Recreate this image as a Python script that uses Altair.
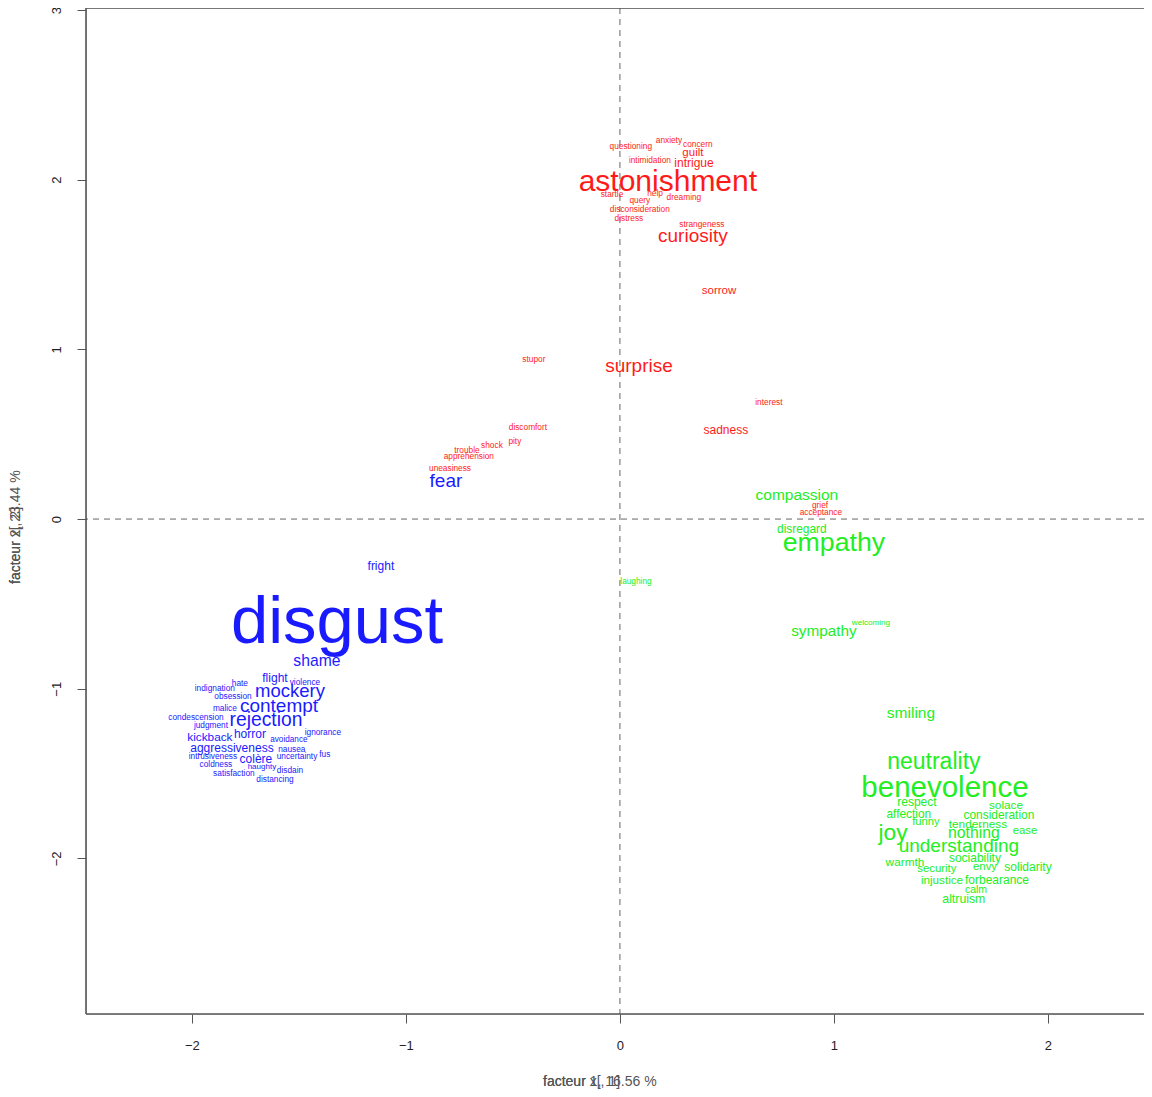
import altair as alt
import pandas as pd

# ---- data ----
red_words = ["astonishment", "curiosity", "surprise", "sorrow", "sadness", "interest",
             "stupor", "discomfort", "pity", "shock", "trouble", "apprehension", "uneasiness",
             "grief", "acceptance", "questioning", "anxiety", "concern", "guilt", "intimidation",
             "intrigue", "startle", "help", "query", "dreaming", "disconsideration", "distress",
             "strangeness"]
red_x = [0.224, 0.341, 0.089, 0.463, 0.495, 0.696, -0.402, -0.430, -0.491, -0.598, -0.715,
         -0.706, -0.794, 0.935, 0.939, 0.051, 0.229, 0.364, 0.341, 0.140, 0.346, -0.037,
         0.164, 0.093, 0.299, 0.093, 0.042, 0.383]
red_y = [1.986, 1.668, 0.902, 1.344, 0.524, 0.684, 0.937, 0.536, 0.454, 0.430, 0.401, 0.365,
         0.295, 0.077, 0.035, 2.192, 2.227, 2.204, 2.157, 2.110, 2.098, 1.909, 1.915, 1.874,
         1.892, 1.821, 1.768, 1.732]
red_size = [30, 19, 19, 11.5, 12, 8.3, 8.3, 8.3, 8.3, 8.3, 8.3, 8.3, 8.3, 8.3, 8.3, 8.3, 8.3,
            8.3, 11.5, 8.3, 12, 8.3, 8.3, 8.3, 8.3, 8.3, 8.3, 8.3]

blue_words = ["disgust", "fear", "fright", "shame", "flight", "violence", "hate", "indignation",
              "mockery", "obsession", "contempt", "malice", "condescension", "rejection",
              "judgment", "ignorance", "kickback", "horror", "avoidance", "aggressiveness",
              "nausea", "fus", "intrusiveness", "colère", "uncertainty", "coldness", "haughty",
              "disdain", "satisfaction", "distancing"]
blue_x = [-1.322, -0.813, -1.117, -1.416, -1.612, -1.472, -1.776, -1.893, -1.542, -1.808,
          -1.593, -1.846, -1.981, -1.654, -1.911, -1.388, -1.916, -1.729, -1.547, -1.813,
          -1.533, -1.379, -1.902, -1.701, -1.509, -1.888, -1.673, -1.542, -1.804, -1.612]
blue_y = [-0.613, 0.224, -0.277, -0.837, -0.937, -0.966, -0.972, -1.002, -1.014, -1.049,
          -1.102, -1.120, -1.173, -1.184, -1.220, -1.261, -1.285, -1.267, -1.302, -1.349,
          -1.361, -1.391, -1.402, -1.414, -1.402, -1.450, -1.461, -1.485, -1.503, -1.538]
blue_size = [67, 19, 12, 15.7, 12, 8.3, 8.3, 8.3, 18.5, 8.3, 19, 8.3, 8.3, 19.3, 8.3, 8.3,
             11.8, 12, 8.2, 12, 8.3, 8.3, 8.3, 12, 8.3, 8.3, 8, 8.3, 8.3, 8.3]

green_words = ["compassion", "disregard", "empathy", "laughing", "welcoming", "sympathy",
               "smiling", "neutrality", "benevolence", "respect", "solace", "affection",
               "consideration", "funny", "tenderness", "joy", "nothing", "ease",
               "understanding", "sociability", "warmth", "envy", "solidarity", "security",
               "injustice", "forbearance", "calm", "altruism"]
green_x = [0.827, 0.850, 1.000, 0.075, 1.173, 0.953, 1.360, 1.467, 1.519, 1.388, 1.804, 1.350,
           1.771, 1.430, 1.673, 1.276, 1.654, 1.893, 1.584, 1.659, 1.332, 1.706, 1.907, 1.481,
           1.505, 1.762, 1.664, 1.607]
green_y = [0.141, -0.059, -0.141, -0.371, -0.613, -0.660, -1.143, -1.432, -1.585, -1.668,
           -1.685, -1.738, -1.744, -1.786, -1.797, -1.850, -1.850, -1.838, -1.927, -1.998,
           -2.021, -2.051, -2.051, -2.062, -2.127, -2.127, -2.186, -2.239]
green_size = [15.5, 11.9, 26.7, 8.3, 8.1, 15.3, 15.5, 23, 29.5, 12, 11.8, 11.9, 11.9, 11.2,
              11.8, 22.8, 15.8, 11.4, 19, 12, 11.8, 11.4, 12, 11.4, 11.7, 12, 10.5, 12.3]

groups = ["red", "blue", "green"]
group_colors = ["#ff1a1a", "#1a1aff", "#22ee22"]

x_ticks = [-2, -1, 0, 1, 2]
y_ticks = [-2, -1, 0, 1, 2, 3]
x_domain = [-2.495, 2.449]
y_domain = [-2.917, 3.012]

x_title_a = "facteur x[, 1]"
x_title_b = "facteur 1, 16.56 %"
y_title_a = "facteur x[, 2]"
y_title_b = "facteur 2, 23.44 %"

# ---- build table ----
rows = []
for g, ws, xs, ys, ss in [("red", red_words, red_x, red_y, red_size),
                          ("blue", blue_words, blue_x, blue_y, blue_size),
                          ("green", green_words, green_x, green_y, green_size)]:
    for w, xx, yy, s in zip(ws, xs, ys, ss):
        rows.append({"word": w, "x": xx, "y": yy, "size": s, "group": g})
df = pd.DataFrame(rows)

W, H = 1058, 1006
FONT = "Liberation Sans"

xscale = alt.Scale(domain=x_domain, nice=False, zero=False)
yscale = alt.Scale(domain=y_domain, nice=False, zero=False)

base = alt.Chart(df)

words = base.mark_text(font=FONT, baseline="middle", align="center").encode(
    x=alt.X("x:Q", scale=xscale,
            axis=alt.Axis(values=x_ticks, title=None, grid=False, domain=False,
                          tickSize=9, tickColor="#555", labelFontSize=13, labelFont=FONT,
                          labelColor="#222", labelPadding=16, format="d")),
    y=alt.Y("y:Q", scale=yscale,
            axis=alt.Axis(values=y_ticks, title=None, grid=False, domain=False,
                          tickSize=9, tickColor="#555", labelFontSize=13, labelFont=FONT,
                          labelColor="#222", labelAngle=270, labelAlign="center",
                          labelBaseline="bottom", labelPadding=14, format="d")),
    text="word:N",
    size=alt.Size("size:Q", scale=None, legend=None),
    color=alt.Color("group:N", scale=alt.Scale(domain=groups, range=group_colors), legend=None),
)

one = pd.DataFrame({"a": [0]})

vline = alt.Chart(one).mark_rule(color="#666", strokeDash=[6, 5], strokeWidth=1).encode(
    x=alt.datum(0, scale=xscale))
hline = alt.Chart(one).mark_rule(color="#666", strokeDash=[6, 5], strokeWidth=1).encode(
    y=alt.datum(0, scale=yscale))

frame_left = alt.Chart(one).mark_rule(color="#555", strokeWidth=1.6).encode(
    x=alt.value(0), y=alt.value(0), y2=alt.value(H))
frame_top = alt.Chart(one).mark_rule(color="#555", strokeWidth=1.6).encode(
    x=alt.value(0), x2=alt.value(W + 5), y=alt.value(0))
frame_bottom = alt.Chart(one).mark_rule(color="#555", strokeWidth=1.6).encode(
    x=alt.value(0), x2=alt.value(W + 5), y=alt.value(H))

title_df = pd.DataFrame({"t": [x_title_a, x_title_b]})
xtitle = alt.Chart(title_df).mark_text(font=FONT, fontSize=14, color="#555", align="left",
                                       baseline="middle").encode(
    text="t:N", x=alt.value(457), y=alt.value(1074))
ytitle_df = pd.DataFrame({"t": [y_title_a, y_title_b]})
ytitle = alt.Chart(ytitle_df).mark_text(font=FONT, fontSize=14, color="#555", align="left",
                                        baseline="middle", angle=270).encode(
    text="t:N", x=alt.value(-70), y=alt.value(576))

chart = alt.layer(vline, hline, words, frame_left, frame_top, frame_bottom, xtitle, ytitle).properties(
    width=W, height=H,
    autosize=alt.AutoSizeParams(type="none"),
    padding={"left": 78, "top": 0, "right": 0, "bottom": 75},
).configure_view(stroke=None).configure(background="white")

chart.save("out.html", embed_options={"renderer": "svg", "actions": False})
